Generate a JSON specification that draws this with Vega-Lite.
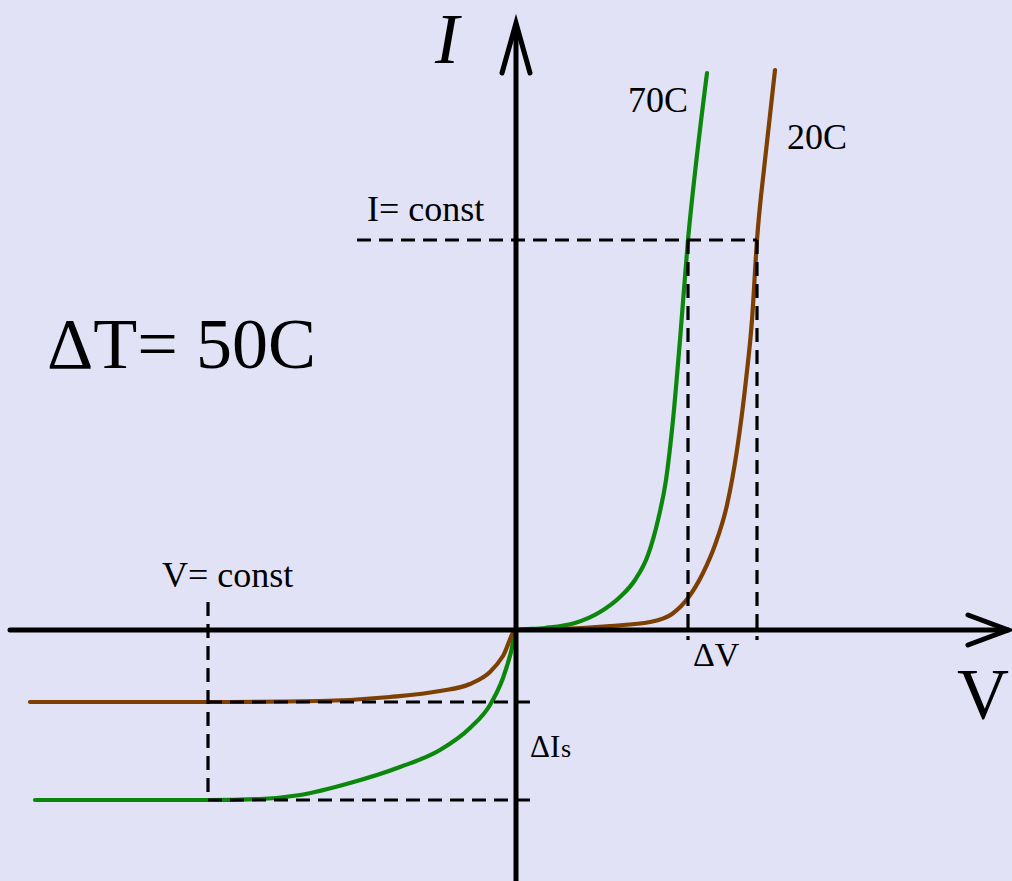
{
  "$schema": "https://vega.github.io/schema/vega-lite/v6.json",
  "width": 1012,
  "height": 881,
  "autosize": {"type": "none"},
  "padding": 0,
  "background": "#E1E2F6",
  "config": {"view": {"stroke": null}},
  "datasets": {
    "lines": [
      {"k": "axis", "g": "xaxis", "o": 1, "x": -506, "y": 0},
      {"k": "axis", "g": "xaxis", "o": 2, "x": 492, "y": 0},
      {"k": "axis", "g": "xarrow", "o": 1, "x": 452, "y": 15},
      {"k": "axis", "g": "xarrow", "o": 2, "x": 492, "y": 0},
      {"k": "axis", "g": "xarrow", "o": 3, "x": 452, "y": -15},
      {"k": "axis", "g": "yaxis", "o": 1, "x": 0, "y": -251},
      {"k": "axis", "g": "yaxis", "o": 2, "x": 0, "y": 605},
      {"k": "axis", "g": "yarrow", "o": 1, "x": -14, "y": 557},
      {"k": "axis", "g": "yarrow", "o": 2, "x": 0, "y": 607},
      {"k": "axis", "g": "yarrow", "o": 3, "x": 14, "y": 557},

      {"k": "dash", "g": "iconst", "o": 1, "x": -159, "y": 390},
      {"k": "dash", "g": "iconst", "o": 2, "x": 241, "y": 390},
      {"k": "dash", "g": "v1", "o": 1, "x": 172, "y": 390},
      {"k": "dash", "g": "v1", "o": 2, "x": 172, "y": -10},
      {"k": "dash", "g": "v2", "o": 1, "x": 241, "y": 390},
      {"k": "dash", "g": "v2", "o": 2, "x": 241, "y": -10},
      {"k": "dash", "g": "vconst", "o": 1, "x": -308, "y": 28},
      {"k": "dash", "g": "vconst", "o": 2, "x": -308, "y": -170},
      {"k": "dash", "g": "h1", "o": 1, "x": -308, "y": -72},
      {"k": "dash", "g": "h1", "o": 2, "x": 16, "y": -72},
      {"k": "dash", "g": "h2", "o": 1, "x": -308, "y": -170},
      {"k": "dash", "g": "h2", "o": 2, "x": 19, "y": -170},

      {"k": "curve", "g": "70C", "o": 1, "x": -481, "y": -170},
      {"k": "curve", "g": "70C", "o": 2, "x": -306, "y": -170},
      {"k": "curve", "g": "70C", "o": 3, "x": -256, "y": -169},
      {"k": "curve", "g": "70C", "o": 4, "x": -216, "y": -165},
      {"k": "curve", "g": "70C", "o": 5, "x": -166, "y": -153},
      {"k": "curve", "g": "70C", "o": 6, "x": -116, "y": -137},
      {"k": "curve", "g": "70C", "o": 7, "x": -76, "y": -120},
      {"k": "curve", "g": "70C", "o": 8, "x": -46, "y": -98},
      {"k": "curve", "g": "70C", "o": 9, "x": -26, "y": -75},
      {"k": "curve", "g": "70C", "o": 10, "x": -13, "y": -48},
      {"k": "curve", "g": "70C", "o": 11, "x": -5, "y": -22},
      {"k": "curve", "g": "70C", "o": 12, "x": 0, "y": 0},
      {"k": "curve", "g": "70C", "o": 13, "x": 29, "y": 2},
      {"k": "curve", "g": "70C", "o": 14, "x": 59, "y": 7},
      {"k": "curve", "g": "70C", "o": 15, "x": 84, "y": 18},
      {"k": "curve", "g": "70C", "o": 16, "x": 104, "y": 33},
      {"k": "curve", "g": "70C", "o": 17, "x": 119, "y": 50},
      {"k": "curve", "g": "70C", "o": 18, "x": 132, "y": 75},
      {"k": "curve", "g": "70C", "o": 19, "x": 142, "y": 110},
      {"k": "curve", "g": "70C", "o": 20, "x": 150, "y": 150},
      {"k": "curve", "g": "70C", "o": 21, "x": 157, "y": 210},
      {"k": "curve", "g": "70C", "o": 22, "x": 164, "y": 290},
      {"k": "curve", "g": "70C", "o": 23, "x": 172, "y": 390},
      {"k": "curve", "g": "70C", "o": 24, "x": 181, "y": 475},
      {"k": "curve", "g": "70C", "o": 25, "x": 191, "y": 557},

      {"k": "curve", "g": "20C", "o": 1, "x": -486, "y": -72},
      {"k": "curve", "g": "20C", "o": 2, "x": -286, "y": -72},
      {"k": "curve", "g": "20C", "o": 3, "x": -196, "y": -71},
      {"k": "curve", "g": "20C", "o": 4, "x": -126, "y": -67},
      {"k": "curve", "g": "20C", "o": 5, "x": -76, "y": -61},
      {"k": "curve", "g": "20C", "o": 6, "x": -46, "y": -54},
      {"k": "curve", "g": "20C", "o": 7, "x": -26, "y": -42},
      {"k": "curve", "g": "20C", "o": 8, "x": -13, "y": -26},
      {"k": "curve", "g": "20C", "o": 9, "x": 0, "y": 0},
      {"k": "curve", "g": "20C", "o": 10, "x": 44, "y": 1},
      {"k": "curve", "g": "20C", "o": 11, "x": 94, "y": 4},
      {"k": "curve", "g": "20C", "o": 12, "x": 134, "y": 8},
      {"k": "curve", "g": "20C", "o": 13, "x": 156, "y": 16},
      {"k": "curve", "g": "20C", "o": 14, "x": 172, "y": 32},
      {"k": "curve", "g": "20C", "o": 15, "x": 187, "y": 57},
      {"k": "curve", "g": "20C", "o": 16, "x": 199, "y": 85},
      {"k": "curve", "g": "20C", "o": 17, "x": 211, "y": 125},
      {"k": "curve", "g": "20C", "o": 18, "x": 221, "y": 180},
      {"k": "curve", "g": "20C", "o": 19, "x": 230, "y": 250},
      {"k": "curve", "g": "20C", "o": 20, "x": 236, "y": 310},
      {"k": "curve", "g": "20C", "o": 21, "x": 241, "y": 390},
      {"k": "curve", "g": "20C", "o": 22, "x": 249, "y": 470},
      {"k": "curve", "g": "20C", "o": 23, "x": 259, "y": 560}
    ],
    "labels": [
      {"t": "70C", "x": 112, "y": 518, "size": 36},
      {"t": "20C", "x": 271, "y": 481, "size": 36},
      {"t": "I= const", "x": -149, "y": 409, "size": 36},
      {"t": "ΔT= 50C", "x": -469, "y": 262, "size": 72},
      {"t": "V= const", "x": -354, "y": 43, "size": 36},
      {"t": "ΔV", "x": 177, "y": -36, "size": 34},
      {"t": "V", "x": 441, "y": -88, "size": 72},
      {"t": "ΔI", "x": 14, "y": -127, "size": 31},
      {"t": "s", "x": 45, "y": -127, "size": 26}
    ],
    "italic": [
      {"t": "I", "x": -81, "y": 567, "size": 72}
    ]
  },
  "encoding": {
    "x": {"field": "x", "type": "quantitative", "axis": null, "scale": {"domain": [-516, 496], "nice": false, "zero": false}},
    "y": {"field": "y", "type": "quantitative", "axis": null, "scale": {"domain": [-251, 630], "nice": false, "zero": false}}
  },
  "layer": [
    {
      "data": {"name": "lines"},
      "transform": [{"filter": "datum.k == 'curve'"}],
      "mark": {"type": "line", "strokeWidth": 4.2, "strokeCap": "round", "strokeJoin": "round", "interpolate": "monotone"},
      "encoding": {
        "detail": {"field": "g"},
        "order": {"field": "o", "type": "quantitative"},
        "color": {"field": "g", "type": "nominal", "legend": null, "scale": {"domain": ["70C", "20C"], "range": ["#0B870B", "#7D3F02"]}}
      }
    },
    {
      "data": {"name": "lines"},
      "transform": [{"filter": "datum.k == 'dash'"}],
      "mark": {"type": "line", "stroke": "black", "strokeWidth": 3.2, "strokeDash": [14, 8]},
      "encoding": {
        "detail": {"field": "g"},
        "order": {"field": "o", "type": "quantitative"}
      }
    },
    {
      "data": {"name": "lines"},
      "transform": [{"filter": "datum.k == 'axis'"}],
      "mark": {"type": "line", "stroke": "black", "strokeWidth": 5, "strokeJoin": "miter", "strokeCap": "round"},
      "encoding": {
        "detail": {"field": "g"},
        "order": {"field": "o", "type": "quantitative"}
      }
    },
    {
      "data": {"name": "labels"},
      "mark": {"type": "text", "font": "Liberation Serif", "align": "left", "baseline": "alphabetic", "color": "black"},
      "encoding": {
        "text": {"field": "t"},
        "size": {"field": "size", "type": "quantitative", "scale": null}
      }
    },
    {
      "data": {"name": "italic"},
      "mark": {"type": "text", "font": "Liberation Serif", "fontStyle": "italic", "align": "left", "baseline": "alphabetic", "color": "black"},
      "encoding": {
        "text": {"field": "t"},
        "size": {"field": "size", "type": "quantitative", "scale": null}
      }
    }
  ]
}
